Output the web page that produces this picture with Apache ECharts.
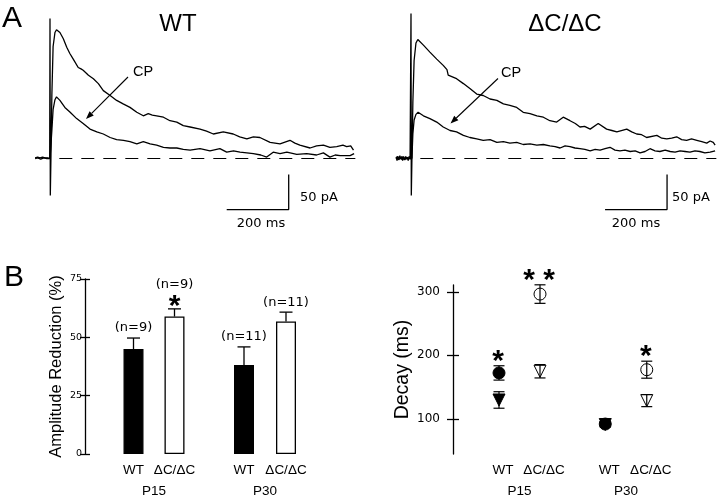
<!DOCTYPE html>
<html><head><meta charset="utf-8">
<script src="https://cdn.jsdelivr.net/npm/echarts@6/dist/echarts.min.js"></script>
<style>html,body{margin:0;padding:0;background:#fff}#c{width:720px;height:499px}</style>
</head><body><div id="c"></div>
<script>
// ---------- Panel A : current traces, [time (ms), current (pA)] ----------
const wtControl = [[-48,1],[-44,-1],[-40,2],[-36,0],[-32,1],[-28,-1],[-24,2],[-20,0],[-16,1],[-12,-1],[-8,1],[-4,0],[-1,0],
 [0,200],[1,-53],[3,0],[6,90],[10,160],[16,180],[21,184],[32,180],[43,171],[54,159],[64,150],[75,142],[91,130],[100,128],[107,126],
 [124,119],[140,114],[156,107],[172,97],[194,90],[215,83],[236,78],[258,73],[280,66],[301,61],[317,64],[330,62],[344,61],[366,59],
 [387,54],[409,52],[430,47],[452,45],[484,42],[505,39],[527,35],[559,38],[591,35],[612,31],[635,28],[656,31],[677,30],[710,23],[742,21],
 [774,26],[790,22],[806,19],[839,15],[860,18],[882,19],[903,16],[925,17],[945,19],[957,17],[970,18],[979,12]];
const wtCP = [[-48,0],[-40,1],[-30,-1],[-20,1],[-10,0],[0,0],[3,0],[6,40],[10,70],[16,84],[21,88],[32,83],[48,73],[65,66],[86,57],
 [107,50],[129,42],[151,38],[172,35],[194,30],[215,27],[237,26],[258,24],[280,21],[301,24],[323,21],[344,19],[366,16],[387,15],
 [409,15],[430,13],[452,12],[484,14],[516,11],[548,14],[570,9],[592,11],[613,9],[635,8],[656,7],[680,5],[699,2],[720,9],[742,7],[764,9],
 [796,6],[828,7],[860,5],[882,8],[903,2],[920,5],[936,4],[968,4],[981,7]];
const dcControl = [[-48,2],[-45,-3],[-42,3],[-39,-2],[-36,4],[-33,-1],[-30,3],[-27,-3],[-24,2],[-21,-2],[-18,3],[-15,-1],[-12,2],
 [-9,-3],[-6,3],[-3,-1],[-1,1],[0,207],[1,-53],[3,0],[6,80],[10,140],[16,165],[22,170],[26,168],[40,162],[61,152],[83,142],[104,133],
 [116,127],[120,119],[126,121],[147,114],[169,107],[190,100],[212,92],[233,90],[255,85],[277,83],[298,78],[319,76],[341,73],[362,66],
 [384,64],[406,61],[427,59],[448,54],[470,52],[491,59],[513,54],[530,50],[545,45],[560,46],[578,42],[604,50],[631,42],[648,40],[664,38],
 [696,42],[712,38],[728,35],[744,34],[760,30],[793,33],[809,29],[825,28],[841,29],[857,31],[873,27],[889,26],[905,28],[922,26],
 [938,24],[954,22],[965,25],[975,23],[981,19]];
const dcCP = [[-48,0],[-44,3],[-40,-2],[-36,2],[-30,-1],[-25,3],[-20,-2],[-15,2],[-10,-1],[-5,2],[0,0],[3,0],[6,35],[10,55],[16,63],
 [23,66],[40,61],[61,57],[83,52],[104,45],[126,40],[147,38],[169,33],[190,30],[212,28],[233,26],[255,27],[277,23],[298,24],[319,22],
 [341,23],[362,20],[384,21],[406,19],[427,20],[448,18],[465,17],[481,15],[497,18],[513,17],[529,15],[545,14],[561,13],[578,11],[594,13],
 [610,12],[626,14],[642,16],[658,12],[674,11],[690,12],[707,10],[723,11],[739,8],[755,10],[771,14],[787,11],[803,10],[820,12],[836,10],
 [852,9],[868,11],[884,10],[900,9],[916,11],[932,10],[948,8],[965,9],[981,11]];
const baselineSpan = [30, 985];          // ms, dashed zero-current line
const scaleBarMs = 200;
const scaleBarPA = 50;

// ---------- Panel B (left) : amplitude reduction (%) ----------
const genotypes = ['WT', 'ΔC/ΔC'];
const ampP15 = [45.0, 58.9];
const ampErrP15 = [4.7, 3.3];
const ampP30 = [38.1, 56.8];
const ampErrP30 = [7.8, 4.0];
const nP15 = ['(n=9)', '(n=9)'];
const nP30 = ['(n=11)', '(n=11)'];
const sigAmpP15 = ['', '*'];
const sigAmpP30 = ['', ''];
const ampTicks = [0, 25, 50, 75];

// ---------- Panel B (right) : decay (ms) ----------
const decayCircleP15 = [172.3, 296.5];
const decayCircleErrP15 = [11.3, 14.6];
const decayTriP15 = [129.7, 174.9];
const decayTriErrP15 = [13.0, 10.5];
const decayCircleP30 = [91.8, 177.4];
const decayCircleErrP30 = [4.0, 13.4];
const decayTriP30 = [91.0, 128.7];
const decayTriErrP30 = [4.0, 9.5];
const sigDecayP15 = ['*', '* *'];
const sigDecayP30 = ['', '*'];
const decayTicks = [100, 200, 300];

// ---------- styles ----------
const SANS = '"Liberation Sans", Arial, sans-serif';
const DV = '"DejaVu Sans", sans-serif';
const genoFill = ['#000', '#fff'];
const genoOpen = [false, true];

const chart = echarts.init(document.getElementById('c'), null, {renderer: 'canvas'});

function arrow(x1, y1, x2, y2) {
  const dx = x2 - x1, dy = y2 - y1, L = Math.hypot(dx, dy);
  const ux = dx / L, uy = dy / L, len = 8, hw = 3;
  const bx = x2 - ux * len, by = y2 - uy * len;
  return [
    {type: 'line', shape: {x1, y1, x2: bx, y2: by}, style: {stroke: '#000', lineWidth: 1.1}},
    {type: 'polygon', shape: {points: [[x2, y2], [bx - uy * hw, by + ux * hw], [bx + uy * hw, by - ux * hw]]}, style: {fill: '#000'}}
  ];
}

function traceSeries(data, gi, w) {
  return {type: 'line', xAxisIndex: gi, yAxisIndex: gi, data, showSymbol: false, silent: true,
    lineStyle: {color: '#000', width: w}, animation: false};
}
function scaleBar(gi, t0, i0) {
  return {type: 'line', xAxisIndex: gi, yAxisIndex: gi, showSymbol: false, silent: true, animation: false,
    data: [[t0, i0], [t0 + scaleBarMs, i0], [t0 + scaleBarMs, i0 + scaleBarPA]],
    lineStyle: {color: '#000', width: 1.3}};
}
function baseline(gi) {
  return {type: 'line', xAxisIndex: gi, yAxisIndex: gi, showSymbol: false, silent: true, animation: false,
    data: [[baselineSpan[0], 0], [baselineSpan[1], 0]],
    lineStyle: {color: '#000', width: 1, type: [13, 9]}};
}

function ampErr(xi, yi, means, errs, nlab, sig) {
  return {type: 'custom', xAxisIndex: xi, yAxisIndex: yi, silent: true, animation: false, z: 5,
    data: means.map((v, i) => [i, v, errs[i]]),
    renderItem(params, api) {
      const i = params.dataIndex, x = api.value(0), v = api.value(1), e = api.value(2);
      const p0 = api.coord([x, v]), p1 = api.coord([x, v + e]);
      const ch = [
        {type: 'line', shape: {x1: p0[0], y1: p0[1], x2: p1[0], y2: p1[1]}, style: {stroke: '#000', lineWidth: 1.3}},
        {type: 'line', shape: {x1: p1[0] - 6.5, y1: p1[1], x2: p1[0] + 6.5, y2: p1[1]}, style: {stroke: '#000', lineWidth: 1.3}}
      ];
      let labY = p1[1] - 10;
      if (sig[i]) {
        ch.push({type: 'text', style: {text: sig[i], x: p1[0], y: p1[1] - 9 + 6.5, align: 'center', verticalAlign: 'middle',
          font: 'bold 30px ' + SANS, fill: '#000'}});
        labY = p1[1] - 24;
      }
      ch.push({type: 'text', style: {text: nlab[i], x: p1[0], y: labY, align: 'center', verticalAlign: 'middle',
        font: '13px ' + DV, fill: '#000'}});
      return {type: 'group', children: ch};
    }};
}

function decayErr(xi, yi, means, errs, sig) {
  return {type: 'custom', xAxisIndex: xi, yAxisIndex: yi, silent: true, animation: false, z: 3,
    data: means.map((v, i) => [i, v, errs[i]]),
    renderItem(params, api) {
      const i = params.dataIndex, x = api.value(0), v = api.value(1), e = api.value(2);
      const pt = api.coord([x, v + e]), pb = api.coord([x, v - e]);
      const ch = [
        {type: 'line', shape: {x1: pt[0], y1: pt[1], x2: pb[0], y2: pb[1]}, style: {stroke: '#000', lineWidth: 1.2}},
        {type: 'line', shape: {x1: pt[0] - 5.5, y1: pt[1], x2: pt[0] + 5.5, y2: pt[1]}, style: {stroke: '#000', lineWidth: 1.2}},
        {type: 'line', shape: {x1: pb[0] - 5.5, y1: pb[1], x2: pb[0] + 5.5, y2: pb[1]}, style: {stroke: '#000', lineWidth: 1.2}}
      ];
      if (sig && sig[i]) {
        ch.push({type: 'text', style: {text: sig[i], x: pt[0] - 1, y: pt[1] - 11 + 6.5, align: 'center', verticalAlign: 'middle',
          font: 'bold 30px ' + SANS, fill: '#000'}});
      }
      return {type: 'group', children: ch};
    }};
}
function decayPoints(xi, yi, means, symbol) {
  return {type: 'scatter', xAxisIndex: xi, yAxisIndex: yi, silent: true, animation: false, z: 4,
    symbol: symbol, symbolSize: 12, symbolRotate: symbol === 'triangle' ? 180 : 0,
    data: means.map((v, i) => ({value: [i, v], itemStyle: genoOpen[i]
      ? {color: 'rgba(0,0,0,0)', borderColor: '#000', borderWidth: 1, opacity: 1}
      : {color: '#000', borderColor: '#000', borderWidth: 1, opacity: 1}}))};
}

const hiddenVal = (gi, min, max) => ({type: 'value', gridIndex: gi, min, max, show: false, splitLine: {show: false}});
const catAxis = (gi, name, lblPad) => ({type: 'category', gridIndex: gi, data: genotypes, name,
  nameLocation: 'middle', nameGap: 30, nameTextStyle: {fontFamily: SANS, fontSize: 13.5, color: '#000'},
  axisLine: {show: false}, axisTick: {show: false},
  axisLabel: {fontFamily: SANS, fontSize: 13.5, color: '#000', margin: 9, interval: 0, padding: lblPad || 0}});

const option = {
  backgroundColor: '#fff',
  animation: false,
  grid: [
    {left: 34.5, top: 11.5, width: 322.4, height: 203},
    {left: 395.5, top: 11.5, width: 322.4, height: 203},
    {left: 113, top: 279, width: 82, height: 176},
    {left: 223, top: 279, width: 84, height: 176},
    {left: 478.5, top: 285, width: 82, height: 173},
    {left: 584.5, top: 285, width: 83, height: 173}
  ],
  xAxis: [
    {type: 'value', gridIndex: 0, min: -50, max: 990, show: false},
    {type: 'value', gridIndex: 1, min: -50, max: 990, show: false},
    catAxis(2, 'P15'), catAxis(3, 'P30'),
    catAxis(4, 'P15', [0, 0, 0, 8]), catAxis(5, 'P30', [0, 0, 0, 8])
  ],
  yAxis: [
    hiddenVal(0, -80, 210),
    hiddenVal(1, -80, 210),
    {type: 'value', gridIndex: 2, position: 'left', min: 0, max: 75, interval: 25, offset: 28,
      name: 'Amplitude Reduction (%)', nameLocation: 'middle', nameGap: 20, nameRotate: 90,
      nameTextStyle: {fontFamily: SANS, fontSize: 16.5, color: '#000'},
      axisLine: {show: true, lineStyle: {color: '#000', width: 1.3}},
      axisTick: {show: true, length: 5, lineStyle: {color: '#000', width: 1.3}},
      axisLabel: {fontFamily: DV, fontSize: 9.5, color: '#000', margin: 3}, splitLine: {show: false}},
    {type: 'value', gridIndex: 2, position: 'left', min: 0, max: 75, interval: 25, offset: 28,
      axisLine: {show: false}, axisLabel: {show: false}, splitLine: {show: false},
      axisTick: {show: true, inside: true, length: 5, lineStyle: {color: '#000', width: 1.3}}},
    hiddenVal(3, 0, 75),
    {type: 'value', gridIndex: 4, position: 'left', min: 44.6, max: 310.8, offset: 25.5,
      name: 'Decay (ms)', nameLocation: 'middle', nameGap: 40, nameRotate: 90,
      nameTextStyle: {fontFamily: SANS, fontSize: 19.5, color: '#000'},
      axisLine: {show: true, lineStyle: {color: '#000', width: 1.3}},
      axisTick: {show: true, length: 6, customValues: decayTicks, lineStyle: {color: '#000', width: 1.3}},
      axisLabel: {fontFamily: DV, fontSize: 12, color: '#000', margin: 13, customValues: decayTicks}, splitLine: {show: false}},
    {type: 'value', gridIndex: 4, position: 'left', min: 44.6, max: 310.8, offset: 25.5,
      axisLine: {show: false}, axisLabel: {show: false}, splitLine: {show: false},
      axisTick: {show: true, inside: true, length: 6, customValues: decayTicks, lineStyle: {color: '#000', width: 1.3}}},
    hiddenVal(5, 44.6, 310.8)
  ],
  series: [
    traceSeries(wtControl, 0, 1.3), traceSeries(wtCP, 0, 1.3), baseline(0), scaleBar(0, 570, -72.9),
    traceSeries(dcControl, 1, 1.3), traceSeries(dcCP, 1, 1.3), baseline(1), scaleBar(1, 626, -72.9),
    {type: 'bar', xAxisIndex: 2, yAxisIndex: 2, barWidth: 20, silent: true, animation: false,
      data: ampP15.map((v, i) => ({value: v, itemStyle: {color: genoFill[i], borderColor: '#000', borderWidth: 1.3}}))},
    {type: 'bar', xAxisIndex: 3, yAxisIndex: 4, barWidth: 20, silent: true, animation: false,
      data: ampP30.map((v, i) => ({value: v, itemStyle: {color: genoFill[i], borderColor: '#000', borderWidth: 1.3}}))},
    ampErr(2, 2, ampP15, ampErrP15, nP15, sigAmpP15),
    ampErr(3, 4, ampP30, ampErrP30, nP30, sigAmpP30),
    decayErr(4, 5, decayCircleP15, decayCircleErrP15, sigDecayP15),
    decayErr(4, 5, decayTriP15, decayTriErrP15, null),
    decayPoints(4, 5, decayCircleP15, 'circle'),
    decayPoints(4, 5, decayTriP15, 'triangle'),
    decayErr(5, 7, decayCircleP30, decayCircleErrP30, sigDecayP30),
    decayErr(5, 7, decayTriP30, decayTriErrP30, null),
    decayPoints(5, 7, decayTriP30, 'triangle'),
    decayPoints(5, 7, decayCircleP30, 'circle')
  ],
  graphic: [
    {type: 'text', left: 2, top: 4, style: {text: 'A', font: '30px ' + SANS, fill: '#000'}},
    {type: 'text', left: 4, top: 263, style: {text: 'B', font: '30px ' + SANS, fill: '#000'}},
    {type: 'text', x: 178, y: 24, style: {text: 'WT', font: '24px ' + SANS, fill: '#000', align: 'center', verticalAlign: 'middle'}},
    {type: 'text', x: 565, y: 24, style: {text: 'ΔC/ΔC', font: '24px ' + SANS, fill: '#000', align: 'center', verticalAlign: 'middle'}},
    {type: 'text', x: 143, y: 72, style: {text: 'CP', font: '14.5px ' + SANS, fill: '#000', align: 'center', verticalAlign: 'middle'}},
    {type: 'text', x: 511, y: 73, style: {text: 'CP', font: '14.5px ' + SANS, fill: '#000', align: 'center', verticalAlign: 'middle'}},
    ...arrow(128, 77, 86, 119),
    ...arrow(498, 78.5, 450.5, 123.5),
    {type: 'text', x: 300, y: 198, style: {text: '50 pA', font: '13px ' + DV, fill: '#000', align: 'left', verticalAlign: 'middle'}},
    {type: 'text', x: 261, y: 224, style: {text: '200 ms', font: '13px ' + DV, fill: '#000', align: 'center', verticalAlign: 'middle'}},
    {type: 'text', x: 672, y: 198, style: {text: '50 pA', font: '13px ' + DV, fill: '#000', align: 'left', verticalAlign: 'middle'}},
    {type: 'text', x: 636, y: 224, style: {text: '200 ms', font: '13px ' + DV, fill: '#000', align: 'center', verticalAlign: 'middle'}}
  ]
};
chart.setOption(option);
</script>
</body></html>
